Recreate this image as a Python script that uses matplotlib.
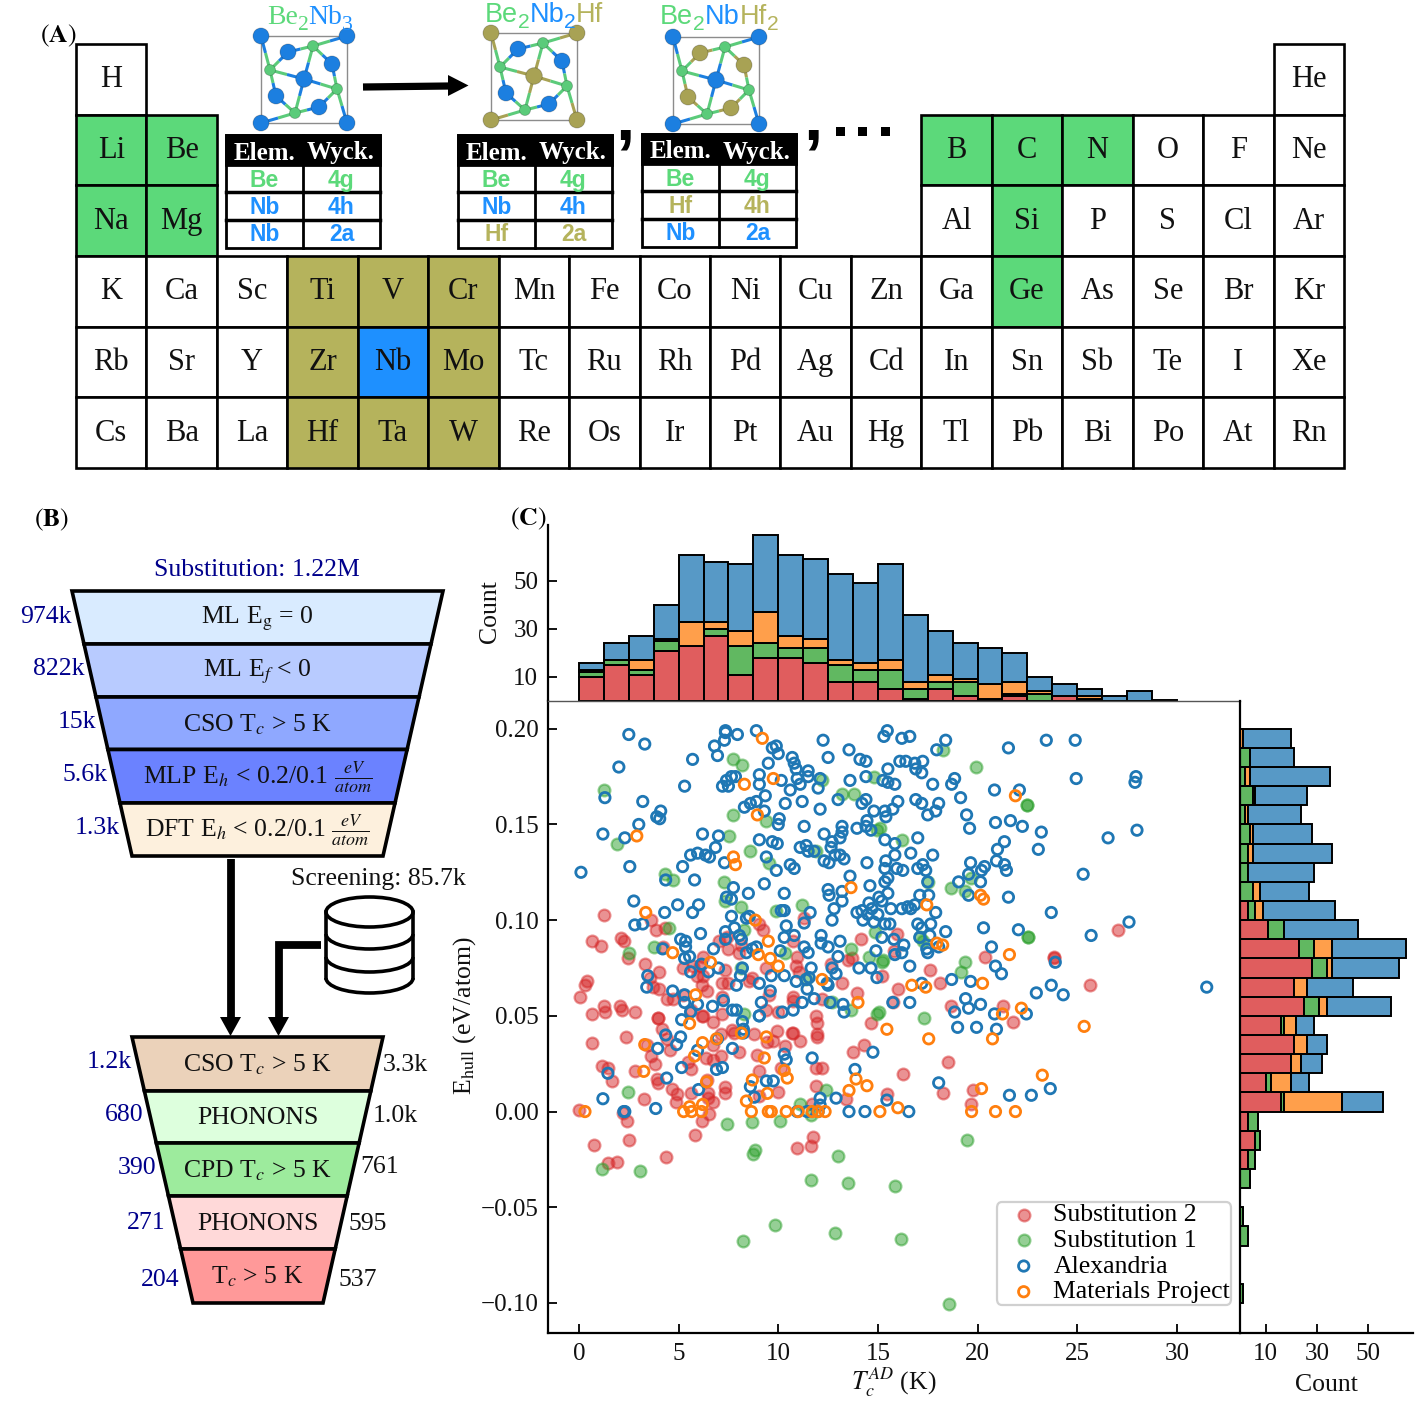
import numpy as np
import matplotlib
matplotlib.use("Agg")
import matplotlib.pyplot as plt
from matplotlib.colors import to_rgba
from matplotlib.patches import Rectangle, Polygon, Ellipse, Arc
from matplotlib.lines import Line2D

plt.rcParams['font.family'] = ['Liberation Serif', 'DejaVu Serif']
plt.rcParams['mathtext.fontset'] = 'stix'

# ---------- panel A data ----------
row1 = ["H"] + [""] * 16 + ["He"]
row2 = ["Li", "Be"] + [""] * 10 + ["B", "C", "N", "O", "F", "Ne"]
row3 = ["Na", "Mg"] + [""] * 10 + ["Al", "Si", "P", "S", "Cl", "Ar"]
row4 = ["K", "Ca", "Sc", "Ti", "V", "Cr", "Mn", "Fe", "Co", "Ni", "Cu", "Zn", "Ga", "Ge", "As", "Se", "Br", "Kr"]
row5 = ["Rb", "Sr", "Y", "Zr", "Nb", "Mo", "Tc", "Ru", "Rh", "Pd", "Ag", "Cd", "In", "Sn", "Sb", "Te", "I", "Xe"]
row6 = ["Cs", "Ba", "La", "Hf", "Ta", "W", "Re", "Os", "Ir", "Pt", "Au", "Hg", "Tl", "Pb", "Bi", "Po", "At", "Rn"]
green_elements = ["Li", "Be", "Na", "Mg", "B", "C", "N", "Si", "Ge"]
olive_elements = ["Ti", "V", "Cr", "Zr", "Mo", "Hf", "Ta", "W"]
blue_elements = ["Nb"]
table1 = [("Be", "4g"), ("Nb", "4h"), ("Nb", "2a")]
table2 = [("Be", "4g"), ("Nb", "4h"), ("Hf", "2a")]
table3 = [("Be", "4g"), ("Hf", "4h"), ("Nb", "2a")]

# ---------- panel B data ----------
funnel1_labels = ["ML E$_{\\rm g}$ = 0", "ML E$_f$ < 0", "CSO T$_c$ > 5 K",
                  "MLP E$_h$ < 0.2/0.1 $\\frac{eV}{atom}$", "DFT E$_h$ < 0.2/0.1 $\\frac{eV}{atom}$"]
funnel1_counts = ["974k", "822k", "15k", "5.6k", "1.3k"]
funnel2_labels = ["CSO T$_c$ > 5 K", "PHONONS", "CPD T$_c$ > 5 K", "PHONONS", "T$_c$ > 5 K"]
funnel2_left = ["1.2k", "680", "390", "271", "204"]
funnel2_right = ["3.3k", "1.0k", "761", "595", "537"]

# ---------- panel C data ----------
tc_edges = np.arange(0, 31.25, 1.25)
tc_sub2 = [10, 15, 11, 21, 23, 27, 11, 18, 18, 16, 8, 8, 5, 1, 5, 2, 1, 2, 0, 2, 1, 0, 0, 0]
tc_sub1 = [2, 2, 2, 4, 0, 3, 12, 6, 4, 6, 7, 5, 8, 4, 3, 6, 0, 1, 3, 0, 0, 0, 0, 0]
tc_mp = [1, 0, 4, 1, 10, 3, 6, 13, 5, 4, 2, 3, 4, 3, 3, 1, 6, 5, 1, 0, 1, 0, 0, 0]
tc_alex = [3, 7, 10, 14, 28, 25, 28, 32, 34, 33, 36, 33, 40, 28, 18, 15, 15, 12, 6, 5, 3, 2, 4, 0.5]

eh_edges = np.arange(-0.10, 0.2001, 0.01)
eh_sub2 = [0, 0, 0, 0, 0, 0, 0, 3, 6, 3, 16, 10, 20, 21, 16, 25, 21, 28, 23, 11, 3, 0, 0, 0, 0, 0, 0, 0, 0, 0]
eh_sub1 = [1, 0, 0, 3, 1, 0, 4, 3, 2, 4, 1, 2, 0, 0, 1, 6, 0, 6, 6, 6, 3, 5, 3, 3, 4, 2, 5, 2, 4, 0]
eh_mp = [0, 0, 0, 0, 0, 0, 0, 0, 0, 0, 23, 8, 4, 5, 5, 3, 5, 2, 7, 0, 3, 3, 0, 2, 1, 1, 1, 2, 0, 1]
eh_alex = [0, 0, 0, 0, 0, 0, 0, 0, 0, 0, 16, 7, 8, 8, 7, 25, 18, 26, 29, 29, 28, 19, 26, 31, 23, 21, 20, 31, 17, 19]

sub2 = np.array([
(1.25,.1025),(3.6,.100),(3.85,.095),(4.3,.096),(.65,.089),(1.1,.0865),(2.1,.0905),(2.25,.089),(4.2,.086),(2.45,.080),
(3.3,.077),(4.0,.073),(.4,.068),(.3,.066),(.05,.060),(1.25,.055),(1.3,.052),(.65,.051),(2.05,.055),(2.15,.053),
(2.8,.052),(3.55,.070),(3.7,.065),(4.0,.064),(4.4,.059),(4.7,.059),(3.95,.049),(5.2,.061),(5.2,.075),(5.7,.076),
(6.2,.081),(6.05,.076),(5.9,.071),(6.2,.071),(6.15,.066),(6.4,.063),(7.05,.089),(7.45,.091),(7.5,.085),(8.15,.087),
(7.2,.067),(7.5,.067),(7.2,.060),(7.35,.074),(6.15,.050),(5.6,.053),(8.7,.070),(8.55,.068),(9.05,.098),(9.25,.095),
(9.4,.075),(9.55,.061),(9.4,.053),(10.0,.052),(10.75,.089),(10.95,.081),(10.9,.076),(11.05,.073),(10.75,.060),(10.75,.058),
(12.2,.059),(11.3,.101),(14.15,.090),(13.7,.080),(13.5,.079),(12.65,.077),(13.2,.067),(13.95,.062),(11.9,.050),(7.2,.051),
(8.05,.083),(15.95,.093),(15.8,.084),(27.05,.095),(23.85,.081),(23.85,.080),(20.35,.081),(17.6,.074),(18.1,.067),(16.0,.064),
(25.65,.066),(15.75,.057),(18.65,.055),(21.3,.055),(21.8,.047),(15.2,.071),(.65,.036),(2.35,.039),(3.95,.049),(4.15,.043),
(3.4,.035),(4.4,.038),(4.55,.032),(3.6,.029),(3.8,.025),(1.15,.024),(1.45,.023),(2.8,.021),(1.65,.016),(3.9,.017),
(3.95,.015),(4.65,.012),(4.9,.009),(4.85,.005),(5.6,.0095),(3.25,.0065),(0,.001),(2.2,-.0005),(2.4,-.005),(2.5,-.0147),
(.75,-.0173),(1.45,-.027),(1.9,-.0265),(4.35,-.024),(5.8,-.0125),(6.15,-.005),(6.5,-.0013),(6.45,.0095),(6.45,.007),(6.7,.005),
(6.4,.0165),(5.45,.026),(5.6,.022),(6.35,.028),(6.7,.027),(7.15,.029),(7.15,.0405),(6.7,.035),(6.2,.05),(6.7,.047),
(7.7,.0425),(7.8,.041),(8.8,.0405),(8.05,.031),(7.35,.013),(7.35,.0095),(8.95,.0295),(9.05,.021),(9.05,.008),(9.45,.0365),
(9.75,.037),(9.95,.042),(10.35,.034),(10.7,.041),(10.75,.041),(11.1,.037),(10.15,.0225),(10.0,.010),(11.95,.0465),(11.95,.0405),
(11.95,.039),(11.9,.023),(12.2,.023),(11.9,.0135),(11.75,-.0135),(11.65,-.018),(10.95,-.019),(11.7,.004),(14.3,.035),(13.75,.031),
(14.65,.0465),(13.4,.0065),(18.5,.026),(16.25,.0195),(18.25,.0095),(19.75,.0115),(15.45,.009),(19.65,.004),
])

sub1 = np.array([
(7.75,.184),(8.2,.181),(1.25,.168),(12.2,.173),(14.8,.175),(13.2,.166),(13.8,.166),(7.75,.155),(9.4,.152),(14.95,.147),
(1.9,.140),(7.55,.144),(8.6,.136),(9.55,.130),(11.9,.136),(4.3,.124),(4.7,.121),(7.3,.120),(7.35,.110),(8.15,.107),
(11.2,.108),(9.9,.105),(4.5,.096),(8.3,.095),(14.85,.094),(3.75,.086),(2.5,.083),(10.35,.083),(13.65,.085),(14.55,.081),
(15.2,.078),(15.25,.079),(8.15,.075),(11.4,.069),(12.7,.057),(13.65,.053),(15.05,.052),(14.95,.051),(8.3,.051),(18.25,.189),
(19.9,.180),(22.5,.160),(22.5,.160),(16.2,.142),(15.1,.148),(17.5,.120),(18.65,.117),(19.65,.122),(19.35,.115),(22.55,.091),
(22.55,.091),(17.1,.091),(17.25,.089),(19.35,.078),(19.15,.073),(17.3,.049),(2.45,.010),(11.1,.004),
(12.4,.011),(11.65,-.002),(7.45,-.0065),(8.7,-.0055),(10.1,-.005),(8.85,-.020),(8.75,-.022),(13.0,-.023),(1.15,-.030),(3.05,-.031),
(11.65,-.036),(13.5,-.0375),(9.85,-.0595),(12.85,-.0635),(8.25,-.0675),(19.45,-.0147),(15.85,-.039),(16.15,-.0665),(18.55,-.1005),
])

alexandria = np.array([
(2.5,.197),(3.3,.192),(2.0,.180),(5.7,.184),(5.3,.170),(1.3,.164),(3.2,.162),(4.1,.157),(3.9,.154),(4.05,.153),
(3.0,.150),(1.2,.145),(2.3,.143),(6.2,.145),(7.0,.144),(.1,.125),(2.55,.128),(5.2,.128),(5.6,.134),(5.95,.135),
(6.35,.134),(6.55,.133),(6.85,.138),(7.3,.130),(4.35,.121),(5.8,.121),(2.75,.110),(4.3,.104),(4.95,.108),(6.0,.108),
(5.7,.104),(2.8,.0975),(3.2,.098),(6.1,.093),(5.1,.090),(5.35,.089),(5.35,.086),(4.2,.085),(5.3,.080),(5.55,.081),
(6.75,.085),(3.45,.071),(3.4,.065),(4.7,.063),(5.3,.061),(5.3,.057),(5.6,.073),(6.15,.077),(6.5,.073),(7.0,.075),
(5.95,.056),(6.7,.055),(7.25,.058),(7.7,.053),(7.9,.053),(7.9,.066),(8.1,.071),(8.2,.075),(7.35,.199),(7.35,.198),
(7.3,.194),(7.95,.197),(6.8,.191),(6.95,.186),(7.2,.170),(7.4,.173),(7.5,.170),(7.65,.175),(7.85,.175),(8.9,.199),
(9.7,.190),(9.9,.191),(10.0,.187),(9.5,.182),(9.05,.176),(9.05,.171),(10.15,.173),(10.7,.185),(10.8,.182),(10.9,.179),
(10.95,.174),(11.1,.171),(10.6,.168),(11.5,.178),(11.5,.175),(12.1,.174),(12.0,.169),(12.25,.194),(12.5,.185),(13.55,.189),
(14.1,.184),(14.4,.183),(13.6,.173),(14.4,.175),(9.35,.165),(8.3,.159),
(8.6,.161),(8.9,.162),(9.3,.157),(10.35,.161),(11.2,.162),(12.1,.158),(13.0,.163),(14.4,.163),(14.2,.161),(14.8,.157),
(10.05,.153),(10.0,.150),(11.3,.149),(12.3,.145),(13.2,.149),(13.2,.146),(13.1,.143),(12.7,.141),(12.65,.138),
(13.95,.148),(14.4,.149),(14.45,.152),(14.65,.147),(9.05,.142),(9.7,.141),(9.95,.140),(11.1,.138),(11.4,.139),
(11.5,.136),(11.8,.136),(12.85,.134),(13.1,.134),(13.3,.132),(12.3,.131),(12.55,.130),(14.45,.130),
(9.4,.133),(9.9,.126),(10.6,.129),(10.8,.127),(13.6,.123),(9.3,.119),(7.75,.117),(8.5,.114),(10.3,.114),
(7.4,.112),(7.65,.111),(12.5,.116),(12.55,.113),(13.2,.115),(13.2,.110),(14.6,.118),(15.05,.112),(14.55,.109),
(12.8,.106),(11.6,.104),(10.15,.105),(10.3,.105),(7.65,.102),(8.4,.101),(8.55,.102),(11.3,.0985),(12.7,.100),(13.95,.104),
(14.2,.105),(14.5,.103),(14.7,.106),(15.0,.103),(14.25,.100),(14.8,.099),(10.4,.097),(7.8,.096),(7.35,.094),
(7.35,.090),(8.05,.092),(8.15,.090),(10.3,.091),(10.8,.092),(12.15,.092),(13.1,.089),(12.15,.088),(12.5,.086),(8.7,.085),
(8.9,.086),(8.4,.083),(10.1,.084),(11.3,.086),(11.5,.083),(13.0,.081),(14.9,.084),(11.65,.075),(12.7,.075),
(12.9,.072),(14.05,.075),(14.65,.075),(14.95,.070),(10.3,.071),(9.65,.071),(9.05,.067),(9.6,.063),(9.15,.057),(10.9,.068),
(11.4,.069),(11.55,.070),(11.45,.064),(11.8,.059),(11.2,.057),(12.5,.066),(12.45,.067),(13.25,.056),(13.3,.052),(12.6,.057),
(10.2,.052),(10.75,.053),(9.05,.050),
(15.47,.199),(15.3,.196),(16.2,.195),(16.6,.196),(18.4,.194),(17.95,.189),(21.55,.190),(23.45,.194),(24.9,.194),(16.1,.183),
(16.4,.183),(17.25,.183),(16.85,.182),(16.9,.179),(17.2,.177),(15.5,.179),(15.25,.173),(15.5,.172),(15.85,.171),(17.75,.171),
(18.85,.174),(18.7,.171),(20.85,.168),(22.1,.168),(24.95,.174),(27.95,.175),(27.9,.172),(19.15,.164),(16.0,.162),(15.75,.158),
(15.35,.157),(15.4,.154),(16.9,.163),(17.2,.161),(18.05,.161),(17.9,.157),(17.5,.155),(19.45,.155),(19.6,.148),(20.9,.151),
(21.65,.152),(22.25,.149),(23.2,.146),(28.0,.147),(26.55,.143),(15.35,.142),(15.85,.140),(17.0,.143),(21.35,.141),(21.0,.137),
(23.05,.137),(16.65,.135),(15.85,.134),(17.75,.134),(15.4,.131),(15.35,.127),(15.95,.127),(16.25,.126),(17.0,.127),(17.25,.129),
(17.4,.126),(19.65,.130),(20.95,.131),(21.35,.129),(21.45,.126),(20.35,.128),(20.2,.126),(19.55,.124),(25.3,.124),(15.5,.122),
(15.35,.120),(17.5,.120),(19.05,.120),(20.15,.120),(15.5,.114),(17.1,.113),(17.55,.113),(19.55,.113),(21.55,.112),(15.2,.110),
(15.65,.106),(16.2,.106),(16.5,.107),(16.65,.106),(16.85,.108),(17.9,.104),(23.7,.104),(27.6,.099),(31.5,.065),(17.0,.098),
(17.2,.096),(17.65,.098),(15.35,.098),(15.6,.098),(20.3,.096),(22.05,.095),(18.4,.094),(25.7,.092),(17.1,.091),(17.6,.092),
(15.8,.090),(15.2,.091),(16.3,.087),(17.45,.085),(17.5,.083),(16.2,.083),(15.85,.082),(18.05,.086),(20.7,.086),(23.9,.078),
(16.6,.076),(20.9,.076),(21.2,.072),(18.7,.069),(19.65,.068),(23.7,.066),(22.95,.062),(24.3,.061),(17.2,.067),(15.75,.057),
(16.6,.057),(19.4,.059),(20.15,.056),(19.55,.054),(18.85,.052),(20.85,.051),(22.45,.051),
(5.15,.048),(5.6,.052),(4.35,.040),(5.1,.039),(4.9,.035),(3.95,.033),(5.95,.032),(6.95,.038),(7.7,.033),(8.2,.047),
(8.25,.043),(8.25,.041),(9.05,.050),(10.3,.030),(10.4,.027),(11.7,.028),(5.15,.023),(6.9,.022),(7.2,.023),(1.45,.020),
(4.4,.0175),(13.85,.022),(14.75,.031),(8.6,.013),(8.8,.0075),(9.4,.016),(9.75,.016),(6.0,.0115),(1.2,.0067),(3.85,.0016),
(2.25,0),(2.3,0),(12.1,.007),(12.1,.0034),(12.9,.007),(10.95,0),(11.45,0),(12.0,0),(13.55,0),
(14.35,0),(19.0,.044),(19.95,.044),(20.95,.043),(18.05,.015),(15.45,.006),(16.55,0),(21.6,.0085),(22.7,.0085),(23.65,.012),
])

materials_project = np.array([
(9.2,.195),(8.3,.171),(9.75,.174),(8.95,.155),(2.9,.144),(7.75,.133),(7.85,.129),(13.65,.117),(3.35,.104),(8.85,.100),
(4.7,.083),(6.6,.078),(9.5,.089),(9.0,.082),(9.6,.080),(10.0,.076),(12.2,.069),(5.85,.061),(14.0,.057),(21.9,.165),
(20.15,.113),(20.3,.111),(17.45,.108),(17.95,.088),(18.25,.087),(21.6,.082),(20.25,.067),(16.7,.066),(17.4,.065),(21.25,.051),
(22.2,.054),(5.55,.046),(3.3,.035),(6.2,.036),(6.9,.038),(8.15,.041),(9.4,.039),(5.8,.029),(9.3,.028),(3.25,.021),
(10.3,.0215),(10.45,.0175),(6.4,.0155),(8.7,.0165),(9.45,.0095),(8.4,.0055),(6.2,.0037),(5.55,.0025),(.3,0),(5.25,0),
(5.65,0),(6.15,0),(8.65,0),(9.5,0),(9.65,0),(10.4,0),(11.0,0),(11.7,0),(12.0,0),(12.35,0),
(13.9,.017),(13.55,.011),(14.45,.0135),(15.1,0),(15.45,.043),(17.55,.038),(20.75,.038),(25.35,.0445),(23.25,.019),(20.2,.012),
(16.0,.002),(19.7,0),(20.9,0),(21.9,0),
])

# ---------- colours ----------
C_GREEN, C_OLIVE, C_BLUE = '#5CD97A', '#B5B35C', '#1E90FF'
NAVY = '#00008B'
FW, FH = 1420, 1405
TXT = 18.5
fig = plt.figure(figsize=(FW / 100, FH / 100), dpi=100)
bg = fig.add_axes([0, 0, 1, 1])
bg.set_xlim(0, FW)
bg.set_ylim(FH, 0)
bg.axis('off')


def axes_px(l, t, r, b):
    return fig.add_axes([l / FW, 1 - b / FH, (r - l) / FW, (b - t) / FH])


def frags(cx, base, parts, size, family):
    """Multi-colour text centred on cx; parts are (text, colour, is_subscript)."""
    r = fig.canvas.get_renderer()
    made, tot = [], 0
    for s, c, sub in parts:
        t = bg.text(0, base + (size * 0.30 if sub else 0), s, color=c, family=family,
                    fontsize=size * (0.78 if sub else 1), va='baseline', ha='left')
        w = t.get_window_extent(r).width
        made.append((t, w))
        tot += w
    x = cx - tot / 2
    for t, w in made:
        t.set_x(x)
        x += w


def label(x, y, s, **kw):
    bg.text(x, y + 2, s, va='center', **kw)


# ---------- panel A ----------
xe = np.linspace(76, 1344, 19)
ye = np.linspace(44, 468, 7)
for j, row in enumerate([row1, row2, row3, row4, row5, row6]):
    for i, el in enumerate(row):
        if not el:
            continue
        fc = C_GREEN if el in green_elements else C_OLIVE if el in olive_elements \
            else C_BLUE if el in blue_elements else 'white'
        bg.add_patch(Rectangle((xe[i], ye[j]), xe[i + 1] - xe[i], ye[j + 1] - ye[j],
                               fc=fc, ec='black', lw=1.9))
        bg.text((xe[i] + xe[i + 1]) / 2, (ye[j] + ye[j + 1]) / 2 + 0.5, el, ha='center',
                va='center', fontsize=22, color='#111111')
label(40, 34, '$(\\mathbf{A})$', fontsize=18.5, ha='left')

cell_col = {'Be': C_GREEN, 'Nb': C_BLUE, 'Hf': C_OLIVE}
node_col = {'Be': '#5BCB7A', 'Nb': '#1C7FE0', 'Hf': '#A8A254'}


def table(l, m, r, t, rows):
    hb = t + 30
    bg.add_patch(Rectangle((l, t), r - l, 113, fc='white', ec='black', lw=2, zorder=3))
    bg.add_patch(Rectangle((l, t), r - l, 30, fc='black', ec='black', lw=2, zorder=3))
    bg.text((l + m) / 2 + 0.5, t + 18, 'Elem.', color='white', fontsize=18, weight='bold', ha='center', va='center', zorder=4)
    bg.text((m + r) / 2 - 0.5, t + 18, 'Wyck.', color='white', fontsize=18, weight='bold', ha='center', va='center', zorder=4)
    bg.plot([m, m], [t, t + 113], color='black', lw=2, zorder=3.5)
    for k, (el, wy) in enumerate(rows):
        yc = hb + 13.6 + k * 27.3
        if k:
            bg.plot([l, r], [yc - 13.6] * 2, color='black', lw=2.5, zorder=3.5)
        for xc, s in (((l + m) / 2, el), ((m + r) / 2, wy)):
            bg.text(xc, yc + 1.5, s, color=cell_col[el], fontsize=16.5, weight='bold', ha='center', va='center',
                    family='Liberation Sans', zorder=4)


table(226, 303, 380, 135, table1)
table(458, 535, 612, 135, table2)
table(642, 719, 796, 134, table3)

# crystal schematics
nodes_be = [(270, 70), (313, 46), (337, 89), (295, 113)]
nodes_a = [(288, 52), (332, 64), (276, 96), (319, 107)]
node_center = (304, 79)
nodes_corner = [(261, 36), (347, 36), (261, 123), (347, 123)]
bonds = [((261, 36), (270, 70)), ((270, 70), (288, 52)), ((288, 52), (313, 46)), ((313, 46), (347, 36)),
         ((313, 46), (304, 79)), ((313, 46), (332, 64)), ((332, 64), (337, 89)), ((270, 70), (304, 79)),
         ((304, 79), (337, 89)), ((304, 79), (295, 113)), ((270, 70), (276, 96)), ((276, 96), (295, 113)),
         ((295, 113), (319, 107)), ((319, 107), (337, 89)), ((337, 89), (347, 123)), ((295, 113), (261, 123))]


def crystal(dx, dy, corner, center, outer):
    bg.add_patch(Rectangle((261 + dx, 36 + dy), 86, 87, fc='none', ec='#8c8c8c', lw=1))
    for p, q in bonds:
        mid = ((p[0] + q[0]) / 2 + dx, (p[1] + q[1]) / 2 + dy)
        for pt in (p, q):
            col = node_col['Be'] if pt in nodes_be else node_col[corner] if pt in nodes_corner \
                else node_col[center] if pt == node_center else node_col[outer]
            bg.plot([pt[0] + dx, mid[0]], [pt[1] + dy, mid[1]], color=col, lw=2.2, zorder=2,
                    solid_capstyle='butt')
    for pts, el, rad in ((nodes_corner, corner, 8), (nodes_a, outer, 8), ([node_center], center, 8.3), (nodes_be, 'Be', 5.5)):
        for (x, y) in pts:
            bg.add_patch(Ellipse((x + dx, y + dy), 2 * rad, 2 * rad, fc=node_col[el], ec='#0a0a0a40', lw=0.6, zorder=2.5))


crystal(0, 0, 'Nb', 'Nb', 'Nb')
crystal(230, -3, 'Hf', 'Hf', 'Nb')
crystal(412, 1, 'Nb', 'Nb', 'Hf')

frags(310, 24, [('Be', C_GREEN, 0), ('2', C_GREEN, 1), ('Nb', C_BLUE, 0), ('3', C_BLUE, 1)], 20, 'Liberation Serif')
frags(544, 22, [('Be', C_GREEN, 0), ('2', C_GREEN, 1), ('Nb', C_BLUE, 0), ('2', C_BLUE, 1), ('Hf', C_OLIVE, 0)], 19.5, 'Liberation Sans')
frags(719, 24, [('Be', C_GREEN, 0), ('2', C_GREEN, 1), ('Nb', C_BLUE, 0), ('Hf', C_OLIVE, 0), ('2', C_OLIVE, 1)], 19.5, 'Liberation Sans')

bg.plot([363, 449], [87, 86], color='black', lw=5.2, solid_capstyle='butt')
bg.add_patch(Polygon([(448, 75), (468.5, 85.5), (448, 96)], closed=True, fc='black', ec='none'))
bg.text(625, 122, ',', fontsize=50, weight='bold', ha='center', va='center', family='Liberation Sans')
bg.text(813, 122, ',', fontsize=50, weight='bold', ha='center', va='center', family='Liberation Sans')
for xd in (840.5, 862.5, 885.5):
    bg.add_patch(Rectangle((xd - 4.5, 127), 9, 9, fc='black', ec='none'))

# ---------- panel B ----------
label(34, 518, '$(\\mathbf{B})$', fontsize=18.5, ha='left')
label(257, 568, 'Substitution: 1.22M', fontsize=TXT, color=NAVY, ha='center')


def funnel(ys, xtl, xtr, xbl, xbr, colors, texts):
    for k in range(5):
        y0, y1 = ys[k], ys[k + 1]
        lf = lambda y: xtl + (xbl - xtl) * (y - ys[0]) / (ys[-1] - ys[0])
        rf = lambda y: xtr + (xbr - xtr) * (y - ys[0]) / (ys[-1] - ys[0])
        bg.add_patch(Polygon([(lf(y0), y0), (rf(y0), y0), (rf(y1), y1), (lf(y1), y1)], closed=True,
                             fc=colors[k], ec='black', lw=2.6, joinstyle='miter'))
        bg.text((xtl + xtr) / 2, (y0 + y1) / 2 + 1, texts[k], ha='center', va='center', fontsize=TXT, color='#111111')


ys1 = [591, 644, 697, 749.5, 803, 856]
ys2 = [1037, 1091, 1143, 1196, 1249, 1303]
funnel(ys1, 72, 443, 132, 383, ['#D9EBFF', '#B8CBFF', '#8FA8FF', '#6B82FF', '#FDF0DD'], funnel1_labels)
funnel(ys2, 132, 383, 193, 323, ['#EBD2BA', '#DDFFDD', '#9DEB9D', '#FFD9D9', '#FF9999'], funnel2_labels)

for s, x, y in zip(funnel1_counts, [72, 84, 96, 108, 120], [615, 667, 720, 773, 826]):
    label(x, y, s, fontsize=TXT, color=NAVY, ha='right')
for s, x, y in zip(funnel2_left, [132, 144, 156, 166, 179], [1060, 1113, 1166, 1221, 1278]):
    label(x, y, s, fontsize=TXT, color=NAVY, ha='right')
for s, x, y in zip(funnel2_right, [383, 373, 360, 348, 338], [1063, 1114, 1165, 1222, 1278]):
    label(x, y, s, fontsize=TXT, color='#111111', ha='left')
label(378, 877, 'Screening: 85.7k', fontsize=TXT, color='#111111', ha='center')

bg.plot([230.5, 230.5], [859, 1018], color='black', lw=5.6, solid_capstyle='butt')
bg.add_patch(Polygon([(220, 1017), (241, 1017), (230.5, 1036)], closed=True, fc='black', ec='none'))
bg.plot([321, 279, 279], [945, 945, 1018], color='black', lw=5.6, solid_capstyle='butt', solid_joinstyle='miter')
bg.add_patch(Polygon([(268, 1017), (289, 1017), (278.5, 1036)], closed=True, fc='black', ec='none'))

bg.add_patch(Ellipse((369.5, 912), 87, 30, fc='white', ec='black', lw=2.6))
bg.plot([326, 326], [912, 978], color='black', lw=2.6)
bg.plot([413, 413], [912, 978], color='black', lw=2.6)
for yc in (934, 957, 978):
    bg.add_patch(Arc((369.5, yc), 87, 30, theta1=0, theta2=180, ec='black', lw=2.6))

# ---------- panel C ----------
label(510, 517, '$(\\mathbf{C})$', fontsize=18.5, ha='left')
ax = axes_px(548, 701, 1240, 1333)
ax.set_xlim(-1.555, 33.17)
ax.set_ylim(-0.1157, 0.2145)
ax.patch.set_alpha(0)
ax.scatter(sub2[:, 0], sub2[:, 1], s=72, color='tab:red', alpha=0.5, lw=1.6, label='Substitution 2', zorder=2)
ax.scatter(sub1[:, 0], sub1[:, 1], s=72, color='tab:green', alpha=0.5, lw=1.6, label='Substitution 1', zorder=2.1)
ax.scatter(alexandria[:, 0], alexandria[:, 1], s=56, facecolors='none', edgecolors='tab:blue', lw=2.0,
           label='Alexandria', zorder=2.2)
ax.scatter(materials_project[:, 0], materials_project[:, 1], s=56, facecolors='none', edgecolors='tab:orange',
           lw=2.0, label='Materials Project', zorder=2.3)
ax.set_xticks(np.arange(0, 31, 5))
ax.set_yticks([-0.10, -0.05, 0.0, 0.05, 0.10, 0.15, 0.20])
ax.set_yticklabels(['\u22120.10', '\u22120.05', '0.00', '0.05', '0.10', '0.15', '0.20'])
ax.tick_params(direction='in', length=6.5, width=1.4, labelsize=18, pad=7, colors='#111111')
for sp in ('top', 'right'):
    ax.spines[sp].set_visible(False)
for sp in ('left', 'bottom'):
    ax.spines[sp].set_linewidth(1.6)
leg = ax.legend(loc='lower left', bbox_to_anchor=((997 - 548) / 692, (1333 - 1304.5) / 632), fontsize=18.5,
                frameon=True, framealpha=1, edgecolor='#d0d0d0', borderpad=0.04, labelspacing=0.105,
                handletextpad=0.15, borderaxespad=0, handlelength=2.0, scatterpoints=1)
leg.get_frame().set_linewidth(1.6)
label(465, 1014, 'E$_{\\rm hull}$ (eV/atom)', fontsize=TXT, rotation=90, ha='center', color='#111111')
label(894, 1380, '$T_c^{AD}$ (K)', fontsize=TXT, ha='center', color='#111111')
label(490, 610, 'Count', fontsize=TXT, rotation=90, ha='center', color='#111111')
label(1326, 1383, 'Count', fontsize=TXT, ha='center', color='#111111')

colors = [to_rgba(c, 0.75) for c in ('tab:red', 'tab:green', 'tab:orange', 'tab:blue')]

top = axes_px(548, 525, 1240, 701)
top.set_xlim(ax.get_xlim())
top.set_ylim(0, 73.3)
top.patch.set_alpha(0)
bottom = np.zeros(24)
for vals, c in zip((tc_sub2, tc_sub1, tc_mp, tc_alex), colors):
    top.bar(tc_edges[:-1], vals, width=1.25, bottom=bottom, align='edge', color=c, ec='black', lw=1.4)
    bottom += np.array(vals, float)
top.set_xticks([])
top.set_yticks([10, 30, 50])
top.tick_params(direction='in', length=6.5, width=1.4, labelsize=18, pad=7, colors='#111111')
for sp in ('top', 'right'):
    top.spines[sp].set_visible(False)
top.spines['left'].set_linewidth(1.6)
top.spines['bottom'].set_linewidth(1.0)
top.spines['bottom'].set_color('#555555')

side = axes_px(1240, 701, 1413, 1333)
side.set_ylim(ax.get_ylim())
side.set_xlim(0, 67.6)
side.patch.set_alpha(0)
left = np.zeros(30)
for vals, c in zip((eh_sub2, eh_sub1, eh_mp, eh_alex), colors):
    side.barh(eh_edges[:-1], vals, height=0.01, left=left, align='edge', color=c, ec='black', lw=1.4)
    left += np.array(vals, float)
side.set_yticks([])
side.set_xticks([10, 30, 50])
side.tick_params(direction='in', length=6.5, width=1.4, labelsize=18, pad=7, colors='#111111')
for sp in ('top', 'right'):
    side.spines[sp].set_visible(False)
side.spines['left'].set_linewidth(1.6)
side.spines['bottom'].set_linewidth(1.6)

fig.savefig('out.png', dpi=100)
